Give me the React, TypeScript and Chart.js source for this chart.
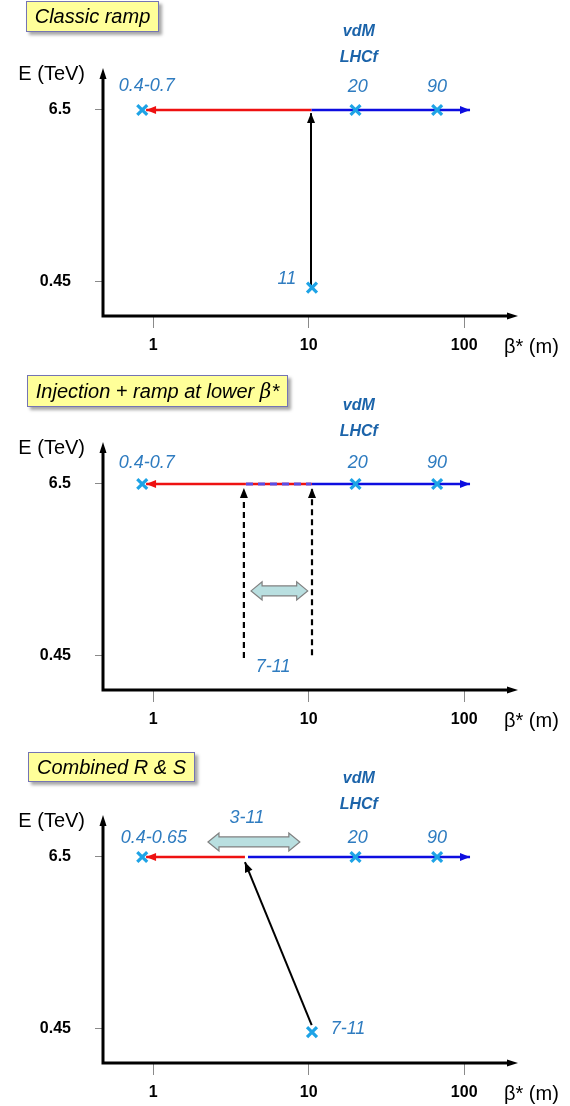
import React, { useEffect, useRef } from "react";
import { Chart, registerables } from "chart.js";

Chart.register(...registerables);

// ---------- axes ----------
const xTickValues = [1, 10, 100];
const xTickLabels = ["1", "10", "100"];
const yTickValues = [0.45, 6.5];
const yTickLabels = ["0.45", "6.5"];
const xAxisRange = [0.4755, 221.8];
const yAxisRange = [-0.746, 7.977];
const xAxisTitle = "β* (m)";
const yAxisTitle = "E (TeV)";

const panelTitles = ["Classic ramp", "Injection + ramp at lower ", "Combined R & S"];

// ---------- panel 1 : classic ramp ----------
const p1MarkerBeta = [0.85, 20, 67, 10.5];
const p1MarkerE = [6.5, 6.5, 6.5, 0.25];
const p1LabelText = ["0.4-0.7", "20", "90", "11", "vdM", "LHCf"];
const p1LabelBeta = [0.91, 20.7, 66.8, 7.24, 21, 21];
const p1LabelE = [7.34, 7.31, 7.31, 0.56, 9.24, 8.33];
const p1RedBeta = [10.4, 0.9];
const p1BlueBeta = [10.4, 109];
const p1FlatE = [6.5, 6.5];
const p1RampBeta = [10.35, 10.35];
const p1RampE = [0.34, 6.39];

// ---------- panel 2 : injection + ramp at lower beta* ----------
const p2MarkerBeta = [0.85, 20, 67];
const p2MarkerE = [6.5, 6.5, 6.5];
const p2LabelText = ["0.4-0.7", "20", "90", "vdM", "LHCf", "7-11"];
const p2LabelBeta = [0.91, 20.7, 66.8, 21, 21, 5.9];
const p2LabelE = [7.24, 7.24, 7.24, 9.24, 8.33, 0.06];
const p2RedBeta = [3.9, 0.9];
const p2RedMidBeta = [3.9, 10.5];
const p2BlueDashBeta = [3.95, 10.4];
const p2BlueBeta = [10.5, 109];
const p2FlatE = [6.5, 6.5];
const p2RampLowBeta = [3.83, 3.83];
const p2RampLowE = [0.38, 6.36];
const p2RampHighBeta = [10.5, 10.5];
const p2RampHighE = [0.48, 6.36];
const p2RangeBeta = [4.26, 9.85];
const p2RangeE = 2.74;

// ---------- panel 3 : combined R & S ----------
const p3MarkerBeta = [0.85, 20, 67, 10.5];
const p3MarkerE = [6.5, 6.5, 6.5, 0.34];
const p3LabelText = ["0.4-0.65", "3-11", "20", "90", "vdM", "LHCf", "7-11"];
const p3LabelBeta = [1.01, 4.0, 20.7, 66.8, 21, 21, 17.9];
const p3LabelE = [7.17, 7.87, 7.17, 7.17, 9.24, 8.33, 0.45];
const p3RedBeta = [3.89, 0.9];
const p3BlueBeta = [4.07, 109];
const p3FlatE = [6.5, 6.5];
const p3RampBeta = [10.45, 3.89];
const p3RampE = [0.59, 6.32];
const p3RangeBeta = [2.25, 8.77];
const p3RangeE = 7.03;

// ---------- styles ----------
const RED = "#ee1111";
const BLUE = "#0d0de0";
const BLACK = "#000000";
const CYAN = "#1ea3e6";
const LABEL_BLUE = "#2f7cc0";
const TAG_BLUE = "#1c64aa";
const FONT = '"Liberation Sans", Arial, sans-serif';

type LineSpec = { beta: number[]; e: number[]; color: string; width: number; dash?: number[]; head?: boolean };
type PanelSpec = {
  markerBeta: number[];
  markerE: number[];
  labelText: string[];
  labelBeta: number[];
  labelE: number[];
  lines: LineSpec[];
  ranges: { beta: number[]; e: number }[];
};

const panels: PanelSpec[] = [
  {
    markerBeta: p1MarkerBeta,
    markerE: p1MarkerE,
    labelText: p1LabelText,
    labelBeta: p1LabelBeta,
    labelE: p1LabelE,
    lines: [
      { beta: p1RedBeta, e: p1FlatE, color: RED, width: 2.5, head: true },
      { beta: p1BlueBeta, e: p1FlatE, color: BLUE, width: 2.5, head: true },
      { beta: p1RampBeta, e: p1RampE, color: BLACK, width: 2, head: true },
    ],
    ranges: [],
  },
  {
    markerBeta: p2MarkerBeta,
    markerE: p2MarkerE,
    labelText: p2LabelText,
    labelBeta: p2LabelBeta,
    labelE: p2LabelE,
    lines: [
      { beta: p2RedBeta, e: p2FlatE, color: RED, width: 2.5, head: true },
      { beta: p2BlueDashBeta, e: p2FlatE, color: "#5a4ee6", width: 3, dash: [7, 5] },
      { beta: p2RedMidBeta, e: p2FlatE, color: RED, width: 2.5 },
      { beta: p2BlueBeta, e: p2FlatE, color: BLUE, width: 2.5, head: true },
      { beta: p2RampLowBeta, e: p2RampLowE, color: BLACK, width: 2.2, dash: [6, 4], head: true },
      { beta: p2RampHighBeta, e: p2RampHighE, color: BLACK, width: 2.2, dash: [6, 4], head: true },
    ],
    ranges: [{ beta: p2RangeBeta, e: p2RangeE }],
  },
  {
    markerBeta: p3MarkerBeta,
    markerE: p3MarkerE,
    labelText: p3LabelText,
    labelBeta: p3LabelBeta,
    labelE: p3LabelE,
    lines: [
      { beta: p3RedBeta, e: p3FlatE, color: RED, width: 2.5, head: true },
      { beta: p3BlueBeta, e: p3FlatE, color: BLUE, width: 2.5, head: true },
      { beta: p3RampBeta, e: p3RampE, color: BLACK, width: 2, head: true },
    ],
    ranges: [{ beta: p3RangeBeta, e: p3RangeE }],
  },
];

const panelTops = [0, 374, 747];
const titleBoxes = [
  { left: 26, top: 1, width: 133, height: 31 },
  { left: 27, top: 375, width: 261, height: 32 },
  { left: 28, top: 752, width: 167, height: 30 },
];

function drawHead(ctx: CanvasRenderingContext2D, ax: number, ay: number, bx: number, by: number, len: number, w: number, color: string) {
  const ang = Math.atan2(by - ay, bx - ax);
  const cx = bx - Math.cos(ang) * len;
  const cy = by - Math.sin(ang) * len;
  const px = -Math.sin(ang) * (w / 2);
  const py = Math.cos(ang) * (w / 2);
  ctx.save();
  ctx.setLineDash([]);
  ctx.fillStyle = color;
  ctx.beginPath();
  ctx.moveTo(bx, by);
  ctx.lineTo(cx + px, cy + py);
  ctx.lineTo(cx - px, cy - py);
  ctx.closePath();
  ctx.fill();
  ctx.restore();
}

function drawDoubleArrow(ctx: CanvasRenderingContext2D, x1: number, x2: number, y: number) {
  const H = 9;
  const h = 5;
  const L = 11;
  ctx.save();
  ctx.setLineDash([]);
  ctx.fillStyle = "#b9dfe0";
  ctx.strokeStyle = "#808080";
  ctx.lineWidth = 1.2;
  ctx.beginPath();
  ctx.moveTo(x1, y);
  ctx.lineTo(x1 + L, y - H);
  ctx.lineTo(x1 + L, y - h);
  ctx.lineTo(x2 - L, y - h);
  ctx.lineTo(x2 - L, y - H);
  ctx.lineTo(x2, y);
  ctx.lineTo(x2 - L, y + H);
  ctx.lineTo(x2 - L, y + h);
  ctx.lineTo(x1 + L, y + h);
  ctx.lineTo(x1 + L, y + H);
  ctx.closePath();
  ctx.fill();
  ctx.stroke();
  ctx.restore();
}

function makePlugin(spec: PanelSpec) {
  return {
    id: "diagram",
    afterDatasetsDraw(chart: any) {
      const ctx: CanvasRenderingContext2D = chart.ctx;
      const { left, right, top, bottom } = chart.chartArea;
      const xs = chart.scales.x;
      const ys = chart.scales.y;

      // arrow heads on line datasets
      chart.data.datasets.forEach((ds: any, i: number) => {
        if (!ds.head) return;
        const pts = chart.getDatasetMeta(i).data;
        const a = pts[pts.length - 2];
        const b = pts[pts.length - 1];
        drawHead(ctx, a.x, a.y, b.x, b.y, 10, 8, ds.borderColor);
      });

      // range double arrows
      spec.ranges.forEach((r) => {
        drawDoubleArrow(ctx, xs.getPixelForValue(r.beta[0]), xs.getPixelForValue(r.beta[1]), ys.getPixelForValue(r.e));
      });

      // axes
      ctx.save();
      ctx.strokeStyle = BLACK;
      ctx.lineWidth = 3;
      ctx.lineCap = "square";
      ctx.beginPath();
      ctx.moveTo(left, top + 8);
      ctx.lineTo(left, bottom);
      ctx.lineTo(right - 8, bottom);
      ctx.stroke();
      ctx.restore();
      drawHead(ctx, left, bottom, left, top, 11, 7, BLACK);
      drawHead(ctx, left, bottom, right, bottom, 11, 7, BLACK);

      // axis titles
      ctx.save();
      ctx.fillStyle = BLACK;
      ctx.font = `20px ${FONT}`;
      ctx.textBaseline = "middle";
      ctx.textAlign = "right";
      ctx.fillText(yAxisTitle, left - 18, top + 6);
      ctx.textAlign = "left";
      ctx.fillText(xAxisTitle, right - 14, bottom + 31);
      ctx.restore();

      // text labels
      ctx.save();
      ctx.textAlign = "center";
      ctx.textBaseline = "middle";
      spec.labelText.forEach((t, i) => {
        const tag = t === "vdM" || t === "LHCf";
        ctx.font = tag ? `italic bold 16px ${FONT}` : `italic 18px ${FONT}`;
        ctx.fillStyle = tag ? TAG_BLUE : LABEL_BLUE;
        ctx.fillText(t, xs.getPixelForValue(spec.labelBeta[i]), ys.getPixelForValue(spec.labelE[i]));
      });
      ctx.restore();
    },
  };
}

function Panel({ spec, top }: { spec: PanelSpec; top: number }) {
  const ref = useRef<HTMLCanvasElement>(null);
  useEffect(() => {
    if (!ref.current) return;
    const datasets: any[] = [
      {
        data: spec.markerBeta.map((b, i) => ({ x: b, y: spec.markerE[i] })),
        pointStyle: "crossRot",
        pointRadius: 7,
        borderWidth: 3.2,
        borderColor: CYAN,
        backgroundColor: CYAN,
        showLine: false,
      },
    ];
    spec.lines.forEach((l) => {
      datasets.push({
        data: l.beta.map((b, i) => ({ x: b, y: l.e[i] })),
        showLine: true,
        borderColor: l.color,
        backgroundColor: l.color,
        borderWidth: l.width,
        borderDash: l.dash || [],
        pointRadius: 0,
        fill: false,
        head: !!l.head,
      });
    });
    const tickFont = { family: FONT, size: 16, weight: "bold" as const };
    const chart = new Chart(ref.current, {
      type: "scatter",
      data: { datasets },
      options: {
        responsive: false,
        animation: false,
        devicePixelRatio: 1,
        layout: { padding: { left: 0, top: 68, right: 52, bottom: 0 } },
        plugins: { legend: { display: false }, tooltip: { enabled: false } },
        scales: {
          x: {
            type: "logarithmic",
            min: xAxisRange[0],
            max: xAxisRange[1],
            afterBuildTicks: (s: any) => {
              s.ticks = xTickValues.map((v) => ({ value: v }));
            },
            afterFit: (s: any) => {
              s.height = 43;
            },
            ticks: {
              autoSkip: false,
              maxRotation: 0,
              color: BLACK,
              font: tickFont,
              padding: 8,
              callback: (_v: any, i: number) => xTickLabels[i],
            },
            grid: { drawOnChartArea: false, drawTicks: true, tickLength: 12, color: "#8a8a8a", lineWidth: 1 },
            border: { display: false },
          },
          y: {
            type: "linear",
            min: yAxisRange[0],
            max: yAxisRange[1],
            afterBuildTicks: (s: any) => {
              s.ticks = yTickValues.map((v) => ({ value: v }));
            },
            afterFit: (s: any) => {
              s.width = 103;
            },
            ticks: {
              autoSkip: false,
              color: BLACK,
              font: tickFont,
              padding: 24,
              callback: (_v: any, i: number) => yTickLabels[i],
            },
            grid: { drawOnChartArea: false, drawTicks: true, tickLength: 8, color: "#8a8a8a", lineWidth: 1 },
            border: { display: false },
          },
        },
      } as any,
      plugins: [makePlugin(spec)],
    });
    return () => chart.destroy();
  }, [spec]);
  return (
    <canvas
      ref={ref}
      width={570}
      height={359}
      style={{ position: "absolute", left: 0, top, width: 570, height: 359 }}
    />
  );
}

export default function App() {
  return (
    <div style={{ position: "absolute", left: 0, top: 0, width: 570, height: 1106, background: "#fff", overflow: "hidden" }}>
      {panels.map((p, i) => (
        <Panel key={i} spec={p} top={panelTops[i]} />
      ))}
      {titleBoxes.map((b, i) => (
        <div
          key={"t" + i}
          style={{
            position: "absolute",
            left: b.left,
            top: b.top,
            width: b.width,
            height: b.height,
            boxSizing: "border-box",
            background: "#ffff99",
            border: "1px solid #7474b4",
            boxShadow: "3px 3px 3px rgba(0,0,0,0.35)",
            fontFamily: FONT,
            fontStyle: "italic",
            fontSize: 20,
            lineHeight: `${b.height - 2}px`,
            textAlign: "center",
            color: "#000",
            whiteSpace: "nowrap",
          }}
        >
          {panelTitles[i]}
          {i === 1 ? (
            <span>
              <span style={{ fontFamily: '"DejaVu Serif", "Liberation Serif", serif' }}>β</span>*
            </span>
          ) : null}
        </div>
      ))}
    </div>
  );
}
